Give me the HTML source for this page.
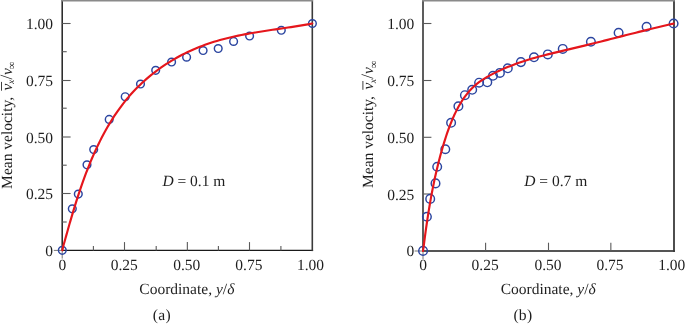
<!DOCTYPE html>
<html><head><meta charset="utf-8"><style>
html,body{margin:0;padding:0;background:#fff;}
svg{display:block;will-change:transform;}
text{text-rendering:geometricPrecision;font-family:"Liberation Serif",serif;font-size:15.5px;fill:#1e1e1e;}
</style></head><body>
<svg width="685" height="324" viewBox="0 0 685 324">
<path d="M62.2,0 V250.4" stroke="#222" stroke-width="1.5"/>
<path d="M61.45,250.4 H313.1" stroke="#1a1a1a" stroke-width="1.4"/>
<path d="M312.3,0 V251.1" stroke="#3a3a3a" stroke-width="1.6"/>
<path d="M61.45,0.8 H313.1" stroke="#8a8a8a" stroke-width="1.6"/>
<path d="M53.800000000000004,250.4 H62.2 M62.2,250.4 V258.6" stroke="#777" stroke-width="1"/>
<path d="M124.50,250.4 V242.10" stroke="#5a5a5a" stroke-width="1.1"/>
<path d="M187.35,250.4 V242.10" stroke="#5a5a5a" stroke-width="1.1"/>
<path d="M249.50,250.4 V242.10" stroke="#5a5a5a" stroke-width="1.1"/>
<path d="M62.2,193.50 H70.60" stroke="#5a5a5a" stroke-width="1.1"/>
<path d="M62.2,137.00 H70.60" stroke="#5a5a5a" stroke-width="1.1"/>
<path d="M62.2,80.50 H70.60" stroke="#5a5a5a" stroke-width="1.1"/>
<path d="M62.2,23.50 H70.60" stroke="#5a5a5a" stroke-width="1.1"/>
<path d="M93.40,250.4 V245.90" stroke="#5a5a5a" stroke-width="1.1"/>
<path d="M156.20,250.4 V245.90" stroke="#5a5a5a" stroke-width="1.1"/>
<path d="M218.40,250.4 V245.90" stroke="#5a5a5a" stroke-width="1.1"/>
<path d="M280.90,250.4 V245.90" stroke="#5a5a5a" stroke-width="1.1"/>
<path d="M62.2,222.00 H66.70" stroke="#5a5a5a" stroke-width="1.1"/>
<path d="M62.2,165.20 H66.70" stroke="#5a5a5a" stroke-width="1.1"/>
<path d="M62.2,108.20 H66.70" stroke="#5a5a5a" stroke-width="1.1"/>
<path d="M62.2,51.70 H66.70" stroke="#5a5a5a" stroke-width="1.1"/>
<text x="62.40" y="270.3" text-anchor="middle">0</text>
<text x="124.25" y="270.3" text-anchor="middle">0.25</text>
<text x="186.75" y="270.3" text-anchor="middle">0.50</text>
<text x="248.85" y="270.3" text-anchor="middle">0.75</text>
<text x="310.55" y="270.3" text-anchor="middle">1.00</text>
<text x="53.00" y="255.90" text-anchor="end">0</text>
<text x="53.00" y="199.10" text-anchor="end">0.25</text>
<text x="53.00" y="142.60" text-anchor="end">0.50</text>
<text x="53.00" y="86.00" text-anchor="end">0.75</text>
<text x="53.00" y="29.10" text-anchor="end">1.00</text>
<circle cx="62.3" cy="250.3" r="3.85" fill="none" stroke="#2b45a0" stroke-width="1.45"/>
<circle cx="72.3" cy="208.8" r="3.85" fill="none" stroke="#2b45a0" stroke-width="1.45"/>
<circle cx="78.3" cy="194.1" r="3.85" fill="none" stroke="#2b45a0" stroke-width="1.45"/>
<circle cx="87.0" cy="164.8" r="3.85" fill="none" stroke="#2b45a0" stroke-width="1.45"/>
<circle cx="93.7" cy="149.6" r="3.85" fill="none" stroke="#2b45a0" stroke-width="1.45"/>
<circle cx="109.2" cy="119.4" r="3.85" fill="none" stroke="#2b45a0" stroke-width="1.45"/>
<circle cx="125.2" cy="96.7" r="3.85" fill="none" stroke="#2b45a0" stroke-width="1.45"/>
<circle cx="140.5" cy="84.0" r="3.85" fill="none" stroke="#2b45a0" stroke-width="1.45"/>
<circle cx="155.7" cy="70.3" r="3.85" fill="none" stroke="#2b45a0" stroke-width="1.45"/>
<circle cx="171.6" cy="62.0" r="3.85" fill="none" stroke="#2b45a0" stroke-width="1.45"/>
<circle cx="186.6" cy="57.2" r="3.85" fill="none" stroke="#2b45a0" stroke-width="1.45"/>
<circle cx="203.1" cy="50.5" r="3.85" fill="none" stroke="#2b45a0" stroke-width="1.45"/>
<circle cx="218.2" cy="48.5" r="3.85" fill="none" stroke="#2b45a0" stroke-width="1.45"/>
<circle cx="233.6" cy="41.4" r="3.85" fill="none" stroke="#2b45a0" stroke-width="1.45"/>
<circle cx="249.6" cy="36.0" r="3.85" fill="none" stroke="#2b45a0" stroke-width="1.45"/>
<circle cx="281.3" cy="30.3" r="3.85" fill="none" stroke="#2b45a0" stroke-width="1.45"/>
<circle cx="312.4" cy="23.5" r="3.85" fill="none" stroke="#2b45a0" stroke-width="1.45"/>
<path d="M62.40,250.30 L63.06,246.93 L63.86,244.05 L64.66,241.17 L65.48,238.26 L66.29,235.34 L67.12,232.42 L67.95,229.47 L68.79,226.52 L69.64,223.56 L70.50,220.59 L71.37,217.62 L72.26,214.63 L73.15,211.64 L74.06,208.65 L74.98,205.65 L75.92,202.65 L76.87,199.65 L77.83,196.65 L78.82,193.65 L79.82,190.65 L80.83,187.66 L81.87,184.66 L82.92,181.67 L84.00,178.69 L85.09,175.71 L86.21,172.74 L87.35,169.78 L88.51,166.83 L89.69,163.89 L90.90,160.96 L92.13,158.04 L93.39,155.14 L94.67,152.25 L95.98,149.37 L97.32,146.52 L98.69,143.68 L100.08,140.85 L101.51,138.05 L102.96,135.27 L104.45,132.51 L105.96,129.77 L107.51,127.05 L109.09,124.36 L110.71,121.70 L112.36,119.06 L114.04,116.44 L115.76,113.86 L117.52,111.31 L119.32,108.78 L121.15,106.29 L123.02,103.83 L124.93,101.40 L126.88,99.01 L128.87,96.65 L130.90,94.33 L132.97,92.04 L135.09,89.80 L137.25,87.59 L139.44,85.42 L141.68,83.29 L143.95,81.20 L146.27,79.15 L148.62,77.14 L151.00,75.16 L153.42,73.23 L155.88,71.35 L158.37,69.50 L160.89,67.69 L163.44,65.93 L166.03,64.21 L168.64,62.53 L171.29,60.90 L173.96,59.31 L176.66,57.76 L179.39,56.26 L182.15,54.80 L184.93,53.39 L187.73,52.03 L190.56,50.71 L193.41,49.43 L196.28,48.20 L199.17,47.02 L202.09,45.89 L205.02,44.81 L207.97,43.77 L210.94,42.78 L213.93,41.83 L216.93,40.93 L219.95,40.07 L222.98,39.25 L226.02,38.46 L229.08,37.71 L232.14,37.00 L235.22,36.31 L238.30,35.66 L241.39,35.03 L244.49,34.43 L247.59,33.85 L250.70,33.29 L253.81,32.75 L256.92,32.23 L260.04,31.72 L263.15,31.23 L266.27,30.75 L269.38,30.28 L272.49,29.81 L275.59,29.36 L278.69,28.90 L281.79,28.45 L284.88,28.00 L287.96,27.54 L291.03,27.08 L294.09,26.61 L297.14,26.14 L300.18,25.66 L303.21,25.16 L306.22,24.65 L309.21,24.12 L312.30,23.50" fill="none" stroke="#e5161c" stroke-width="2.15" stroke-linecap="round" stroke-linejoin="round"/>
<text x="162.4" y="186.2"><tspan font-style="italic">D</tspan> = 0.1 m</text>
<text x="139.3" y="293.6">Coordinate, <tspan font-style="italic">y</tspan>/<tspan font-style="italic">δ</tspan></text>
<text x="152.8" y="320.2" style="font-size:15.6px;letter-spacing:0.25px">(a)</text>
<g transform="translate(11.7,188.9) rotate(-90)">
<text x="0" y="0">Mean velocity,</text>
<text x="98.5" y="0" font-style="italic">v</text>
<path d="M98.2,-10.2 H107.0" stroke="#1e1e1e" stroke-width="0.85"/>
<text x="104.8" y="2.6" style="font-size:9.5px" font-style="italic">x</text>
<text x="109.3" y="0" style="font-size:17.4px">/</text>
<text x="113.9" y="0" font-style="italic">v</text>
<text transform="translate(119.7,3.6) scale(1,1)" style="font-size:10.8px">∞</text>
</g>
<path d="M423.0,0 V251.0" stroke="#555" stroke-width="1.9"/>
<path d="M422.05,251.0 H674.9" stroke="#555" stroke-width="1.8"/>
<path d="M674.0,0 V251.9" stroke="#3a3a3a" stroke-width="1.8"/>
<path d="M422.05,0.8 H674.9" stroke="#8a8a8a" stroke-width="1.6"/>
<path d="M414.6,251.0 H423.0 M423.0,251.0 V259.2" stroke="#777" stroke-width="1"/>
<path d="M485.60,251.0 V242.70" stroke="#5a5a5a" stroke-width="1.1"/>
<path d="M548.50,251.0 V242.70" stroke="#5a5a5a" stroke-width="1.1"/>
<path d="M610.85,251.0 V242.70" stroke="#5a5a5a" stroke-width="1.1"/>
<path d="M423.0,194.00 H431.40" stroke="#5a5a5a" stroke-width="1.1"/>
<path d="M423.0,137.30 H431.40" stroke="#5a5a5a" stroke-width="1.1"/>
<path d="M423.0,80.50 H431.40" stroke="#5a5a5a" stroke-width="1.1"/>
<path d="M423.0,23.50 H431.40" stroke="#5a5a5a" stroke-width="1.1"/>
<text x="423.10" y="270.3" text-anchor="middle">0</text>
<text x="485.15" y="270.3" text-anchor="middle">0.25</text>
<text x="548.00" y="270.3" text-anchor="middle">0.50</text>
<text x="610.00" y="270.3" text-anchor="middle">0.75</text>
<text x="671.75" y="270.3" text-anchor="middle">1.00</text>
<text x="414.30" y="255.90" text-anchor="end">0</text>
<text x="414.30" y="199.60" text-anchor="end">0.25</text>
<text x="414.30" y="142.80" text-anchor="end">0.50</text>
<text x="414.30" y="86.00" text-anchor="end">0.75</text>
<text x="414.30" y="29.10" text-anchor="end">1.00</text>
<circle cx="423.05" cy="250.9" r="4.3" fill="none" stroke="#2b45a0" stroke-width="1.45"/>
<circle cx="426.9" cy="216.7" r="4.3" fill="none" stroke="#2b45a0" stroke-width="1.45"/>
<circle cx="430.2" cy="198.9" r="4.3" fill="none" stroke="#2b45a0" stroke-width="1.45"/>
<circle cx="435.5" cy="183.4" r="4.3" fill="none" stroke="#2b45a0" stroke-width="1.45"/>
<circle cx="437.2" cy="166.7" r="4.3" fill="none" stroke="#2b45a0" stroke-width="1.45"/>
<circle cx="445.3" cy="149.2" r="4.3" fill="none" stroke="#2b45a0" stroke-width="1.45"/>
<circle cx="451.1" cy="122.8" r="4.3" fill="none" stroke="#2b45a0" stroke-width="1.45"/>
<circle cx="458.4" cy="106.3" r="4.3" fill="none" stroke="#2b45a0" stroke-width="1.45"/>
<circle cx="464.9" cy="95.2" r="4.3" fill="none" stroke="#2b45a0" stroke-width="1.45"/>
<circle cx="472.2" cy="89.8" r="4.3" fill="none" stroke="#2b45a0" stroke-width="1.45"/>
<circle cx="479.1" cy="82.7" r="4.3" fill="none" stroke="#2b45a0" stroke-width="1.45"/>
<circle cx="487.3" cy="82.3" r="4.3" fill="none" stroke="#2b45a0" stroke-width="1.45"/>
<circle cx="493.0" cy="75.8" r="4.3" fill="none" stroke="#2b45a0" stroke-width="1.45"/>
<circle cx="499.9" cy="72.9" r="4.3" fill="none" stroke="#2b45a0" stroke-width="1.45"/>
<circle cx="507.8" cy="68.3" r="4.3" fill="none" stroke="#2b45a0" stroke-width="1.45"/>
<circle cx="520.9" cy="62.1" r="4.3" fill="none" stroke="#2b45a0" stroke-width="1.45"/>
<circle cx="534.0" cy="57.3" r="4.3" fill="none" stroke="#2b45a0" stroke-width="1.45"/>
<circle cx="547.8" cy="54.4" r="4.3" fill="none" stroke="#2b45a0" stroke-width="1.45"/>
<circle cx="562.75" cy="48.9" r="4.3" fill="none" stroke="#2b45a0" stroke-width="1.45"/>
<circle cx="590.9" cy="41.7" r="4.3" fill="none" stroke="#2b45a0" stroke-width="1.45"/>
<circle cx="618.6" cy="32.7" r="4.3" fill="none" stroke="#2b45a0" stroke-width="1.45"/>
<circle cx="646.6" cy="26.7" r="4.3" fill="none" stroke="#2b45a0" stroke-width="1.45"/>
<circle cx="673.6" cy="23.5" r="4.3" fill="none" stroke="#2b45a0" stroke-width="1.45"/>
<path d="M423.00,250.90 L423.49,247.69 L423.90,244.49 L424.32,241.28 L424.74,238.07 L425.17,234.86 L425.61,231.65 L426.06,228.44 L426.52,225.23 L427.00,222.02 L427.48,218.82 L427.97,215.61 L428.48,212.41 L429.00,209.20 L429.53,206.00 L430.07,202.81 L430.64,199.61 L431.21,196.42 L431.81,193.23 L432.42,190.05 L433.04,186.87 L433.69,183.69 L434.35,180.52 L435.03,177.35 L435.74,174.19 L436.46,171.03 L437.20,167.88 L437.97,164.74 L438.76,161.60 L439.57,158.46 L440.40,155.34 L441.26,152.22 L442.15,149.11 L443.06,146.00 L443.99,142.91 L444.95,139.82 L445.94,136.74 L446.96,133.67 L448.02,130.61 L449.13,127.57 L450.28,124.54 L451.48,121.53 L452.74,118.54 L454.06,115.58 L455.46,112.63 L456.92,109.71 L458.46,106.83 L460.09,103.99 L461.79,101.20 L463.59,98.48 L465.49,95.84 L467.48,93.29 L469.57,90.83 L471.77,88.48 L474.08,86.25 L476.50,84.16 L479.03,82.19 L481.66,80.33 L484.36,78.58 L487.14,76.92 L489.98,75.35 L492.85,73.84 L495.76,72.39 L498.70,70.99 L501.65,69.64 L504.62,68.34 L507.61,67.09 L510.62,65.88 L513.65,64.71 L516.69,63.58 L519.74,62.50 L522.81,61.46 L525.89,60.46 L528.98,59.50 L532.09,58.57 L535.20,57.68 L538.32,56.82 L541.44,55.99 L544.58,55.18 L547.72,54.39 L550.86,53.62 L554.01,52.86 L557.16,52.11 L560.31,51.37 L563.47,50.63 L566.62,49.89 L569.77,49.15 L572.92,48.40 L576.07,47.64 L579.22,46.88 L582.37,46.11 L585.52,45.34 L588.66,44.56 L591.81,43.78 L594.95,43.00 L598.09,42.21 L601.24,41.42 L604.38,40.63 L607.52,39.84 L610.66,39.04 L613.81,38.25 L616.95,37.45 L620.09,36.66 L623.23,35.86 L626.37,35.07 L629.51,34.28 L632.66,33.49 L635.80,32.70 L638.94,31.91 L642.09,31.13 L645.23,30.35 L648.38,29.58 L651.53,28.81 L654.68,28.05 L657.83,27.29 L660.98,26.54 L664.13,25.79 L667.28,25.05 L670.44,24.32 L673.60,23.60" fill="none" stroke="#e5161c" stroke-width="2.15" stroke-linecap="round" stroke-linejoin="round"/>
<text x="524.2" y="186.2"><tspan font-style="italic">D</tspan> = 0.7 m</text>
<text x="500.7" y="293.6">Coordinate, <tspan font-style="italic">y</tspan>/<tspan font-style="italic">δ</tspan></text>
<text x="513.4" y="320.2" style="font-size:15.6px;letter-spacing:0.25px">(b)</text>
<g transform="translate(373.1,188.0) rotate(-90)">
<text x="0" y="0">Mean velocity,</text>
<text x="98.5" y="0" font-style="italic">v</text>
<path d="M98.2,-10.2 H107.0" stroke="#1e1e1e" stroke-width="0.85"/>
<text x="104.8" y="2.6" style="font-size:9.5px" font-style="italic">x</text>
<text x="109.3" y="0" style="font-size:17.4px">/</text>
<text x="113.9" y="0" font-style="italic">v</text>
<text transform="translate(119.7,3.6) scale(1,1)" style="font-size:10.8px">∞</text>
</g>
</svg>
</body></html>
